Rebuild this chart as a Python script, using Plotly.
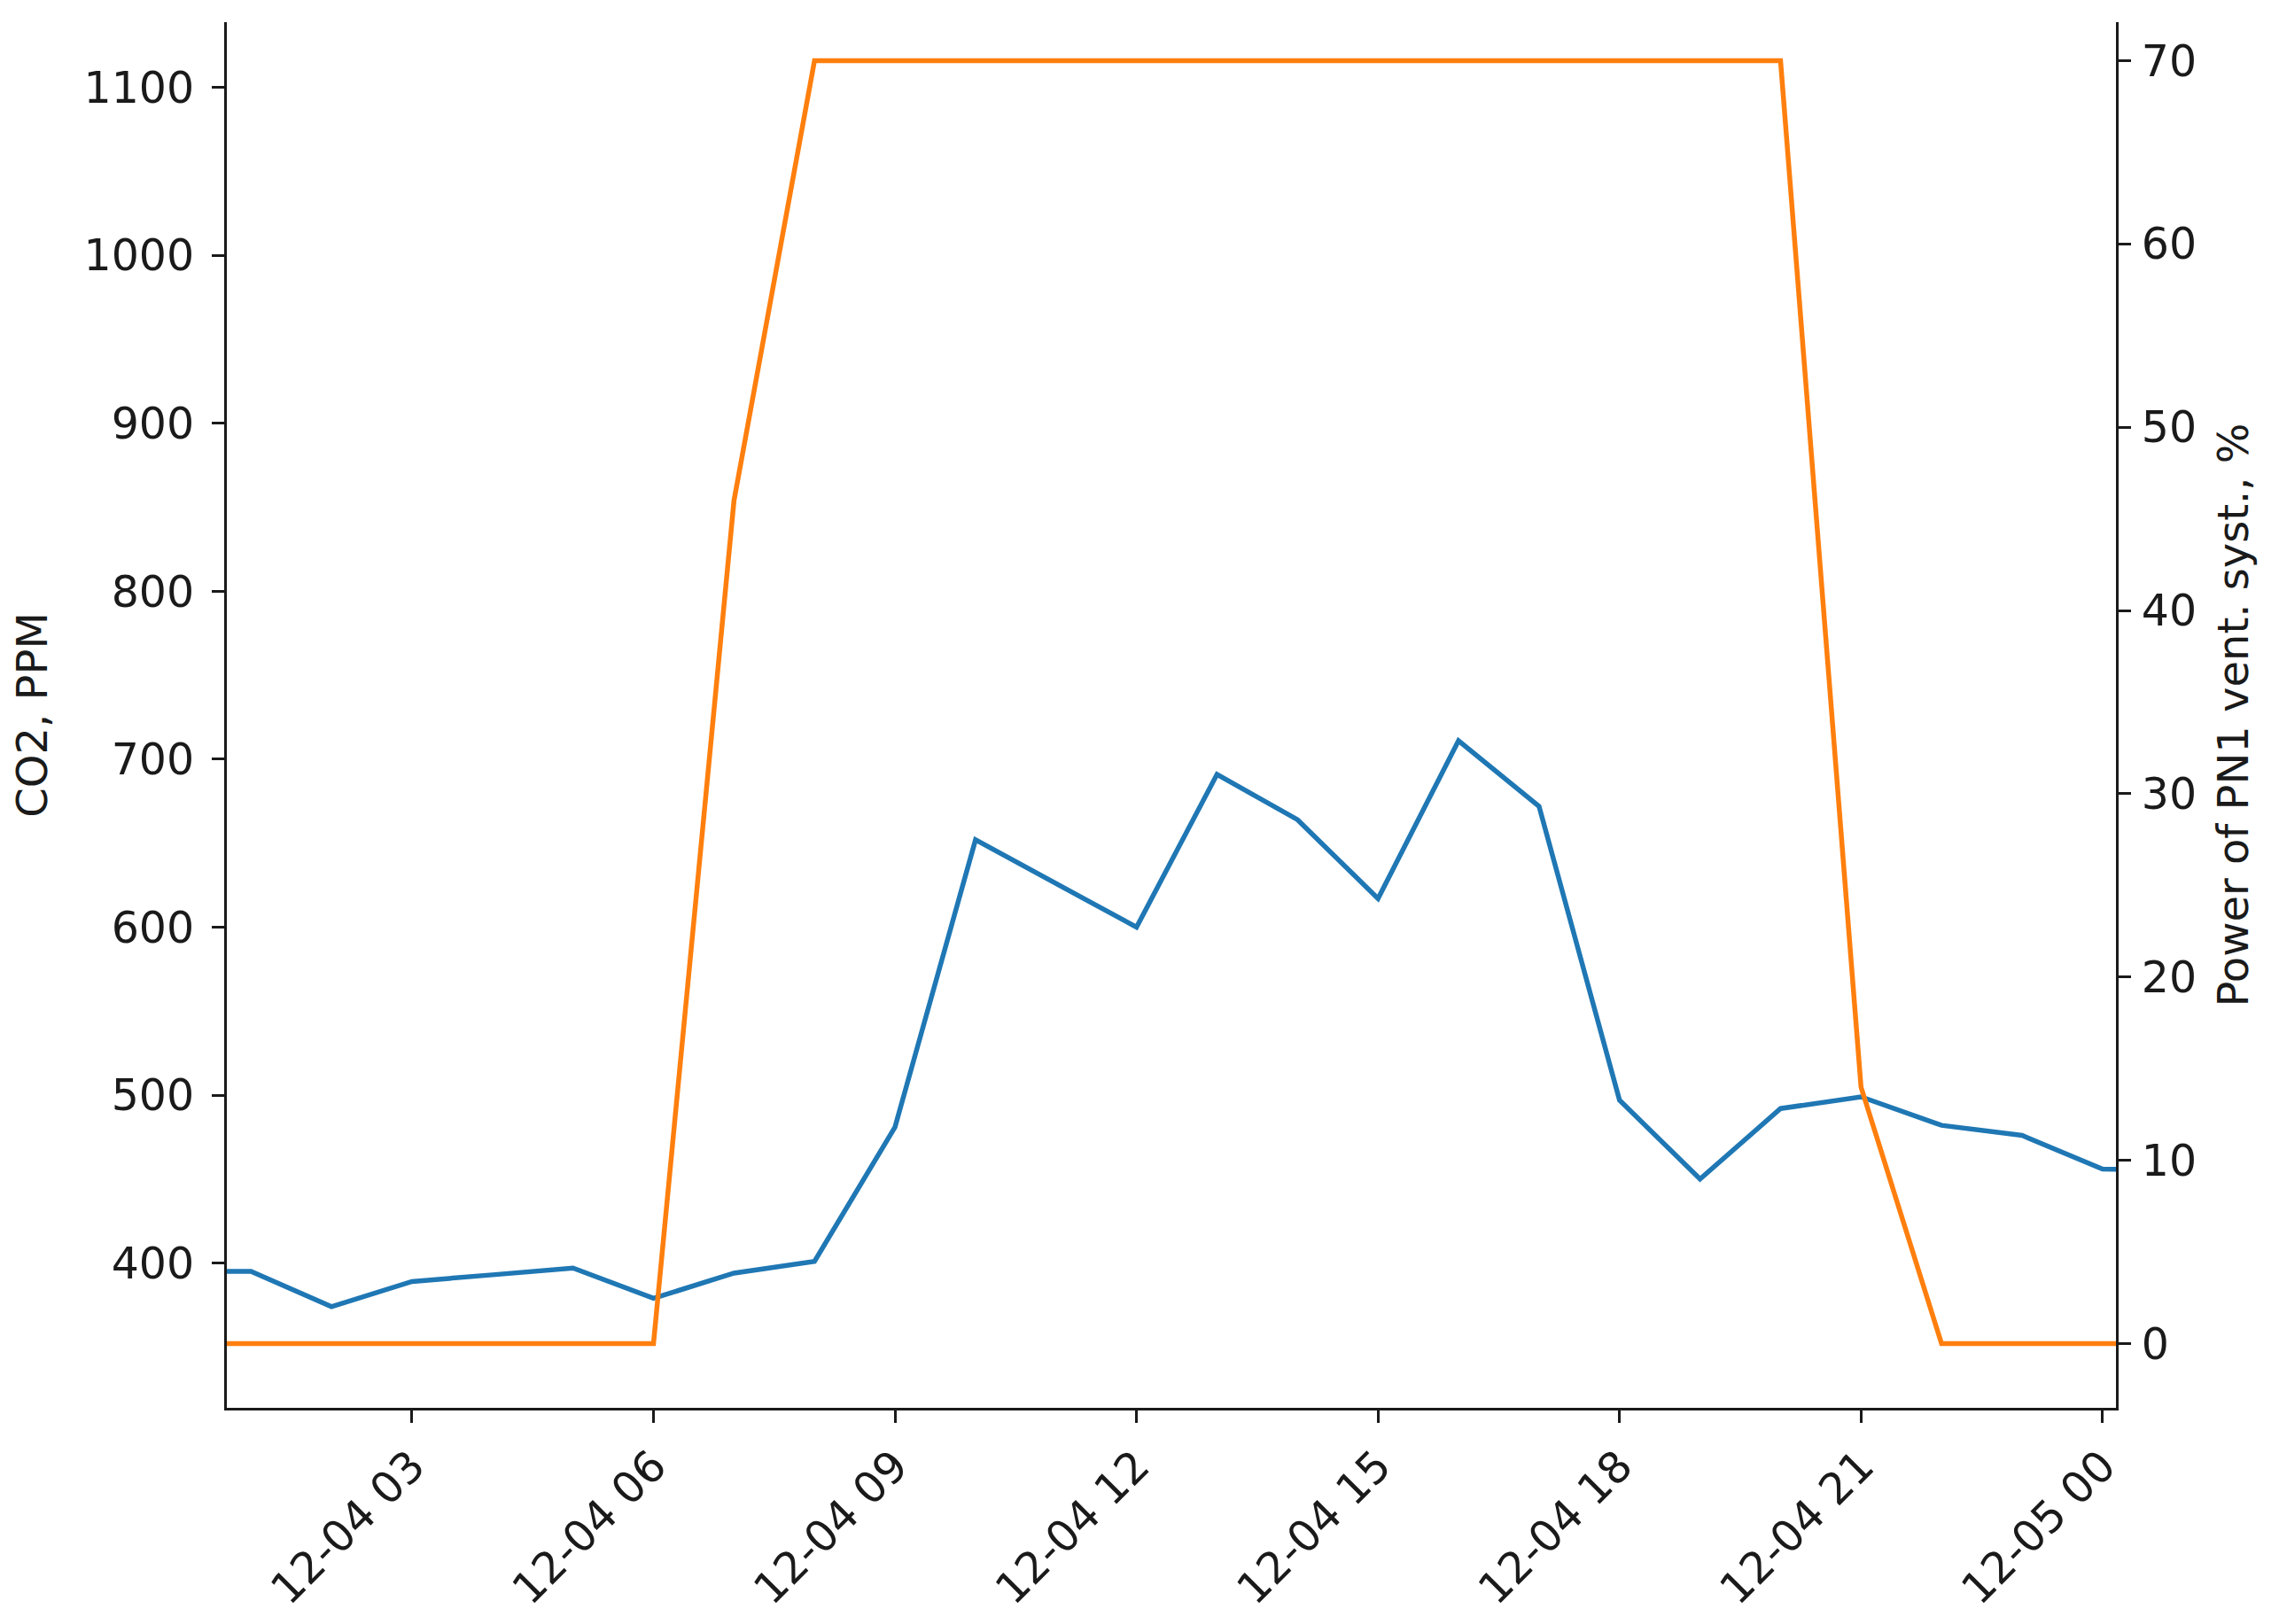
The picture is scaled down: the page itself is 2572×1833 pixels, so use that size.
import plotly.graph_objects as go

# hourly readings, 4-5 Dec
timestamps = [
    "2023-12-04 00:00", "2023-12-04 01:00", "2023-12-04 02:00", "2023-12-04 03:00",
    "2023-12-04 04:00", "2023-12-04 05:00", "2023-12-04 06:00", "2023-12-04 07:00",
    "2023-12-04 08:00", "2023-12-04 09:00", "2023-12-04 10:00", "2023-12-04 11:00",
    "2023-12-04 12:00", "2023-12-04 13:00", "2023-12-04 14:00", "2023-12-04 15:00",
    "2023-12-04 16:00", "2023-12-04 17:00", "2023-12-04 18:00", "2023-12-04 19:00",
    "2023-12-04 20:00", "2023-12-04 21:00", "2023-12-04 22:00", "2023-12-04 23:00",
    "2023-12-05 00:00", "2023-12-05 01:00",
]
co2_ppm = [395, 395, 374, 389, 393, 397, 379, 394, 401, 481, 652, 626, 600,
           691, 664, 617, 711, 672, 497, 450, 492, 499, 482, 476, 456, 455]
power_pct = [0, 0, 0, 0, 0, 0, 0, 46, 70, 70, 70, 70, 70,
             70, 70, 70, 70, 70, 70, 70, 70, 14, 0, 0, 0, 0]

co2_ticks = [400, 500, 600, 700, 800, 900, 1000, 1100]
power_ticks = [0, 10, 20, 30, 40, 50, 60, 70]

FONT = "DejaVu Sans"
INK = "#1a1a1a"

fig = go.Figure()

fig.add_trace(go.Scatter(x=timestamps, y=co2_ppm, mode="lines",
                         line=dict(color="#1f77b4", width=5.5), name="CO2"))
fig.add_trace(go.Scatter(x=timestamps, y=power_pct, mode="lines", yaxis="y2",
                         line=dict(color="#ff7f0e", width=5.5), name="PN1"))

axis_common = dict(
    showgrid=False, zeroline=False, showline=True, linecolor=INK, linewidth=3,
    ticks="outside", ticklen=14, tickwidth=3, tickcolor=INK,
    tickfont=dict(family=FONT, size=49, color=INK),
)

fig.update_layout(
    width=2572, height=1833, autosize=False,
    margin=dict(l=248, r=192, t=17, b=252),
    plot_bgcolor="white", paper_bgcolor="white",
    showlegend=False,
    xaxis=dict(
        axis_common,
        type="date",
        range=["2023-12-04 00:42", "2023-12-05 00:10"],
        tick0="2023-12-04 00:00", dtick=3 * 3600 * 1000,
        tickformat="%m-%d %H", tickangle=-45,
    ),
    yaxis=dict(
        axis_common,
        range=[313.8, 1138.9],
        tickvals=co2_ticks,
        ticklabelstandoff=10,
        title=dict(text="CO2, PPM", font=dict(family=FONT, size=48, color=INK),
                   standoff=34),
    ),
    yaxis2=dict(
        axis_common,
        overlaying="y", side="right",
        range=[-3.5, 72.1],
        tickvals=power_ticks,
        ticklabelstandoff=2,
        title=dict(text="Power of PN1 vent. syst., %",
                   font=dict(family=FONT, size=48, color=INK), standoff=26),
    ),
)

fig.write_html("out.html")
